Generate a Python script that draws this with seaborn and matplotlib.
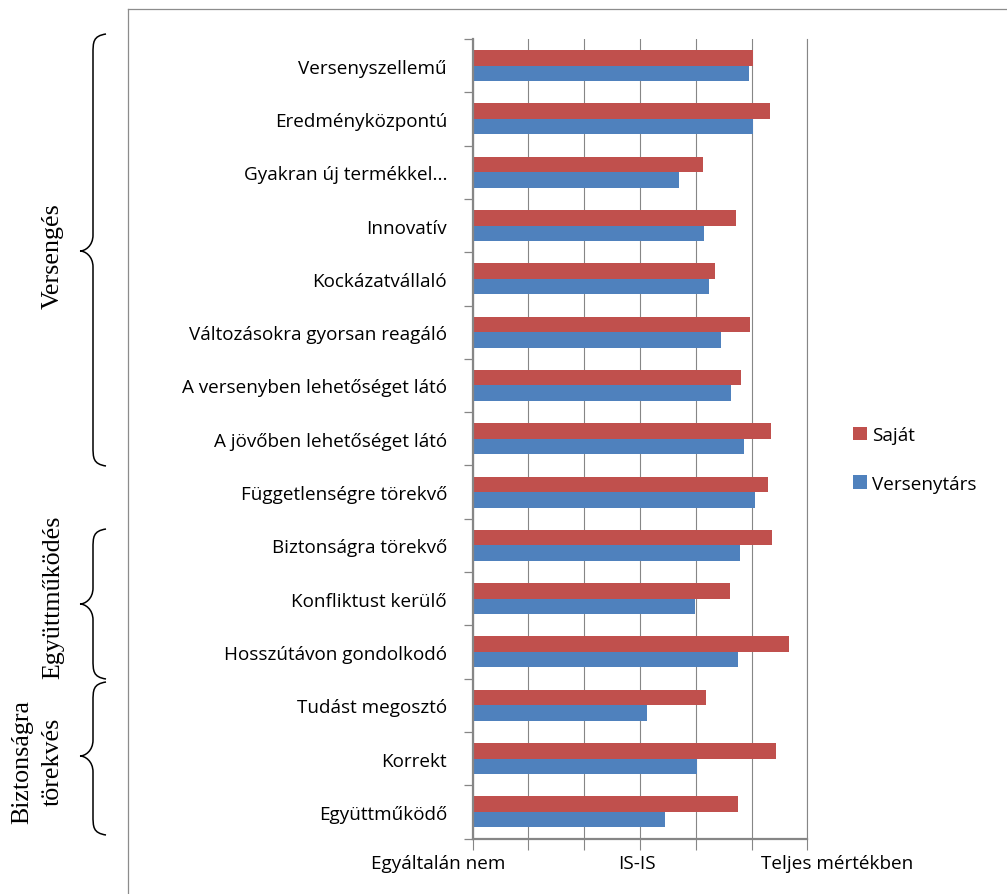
import matplotlib
matplotlib.use('Agg')
import matplotlib.pyplot as plt
import matplotlib.transforms as mtransforms
from matplotlib.lines import Line2D
from matplotlib.path import Path
from matplotlib.patches import PathPatch
import seaborn as sns
import pandas as pd
import numpy as np

# ---------------- data ----------------
categories = [
    'Versenyszellemű',
    'Eredményközpontú',
    'Gyakran új termékkel...',
    'Innovatív',
    'Kockázatvállaló',
    'Változásokra gyorsan reagáló',
    'A versenyben lehetőséget látó',
    'A jövőben lehetőséget látó',
    'Függetlenségre törekvő',
    'Biztonságra törekvő',
    'Konfliktust kerülő',
    'Hosszútávon gondolkodó',
    'Tudást megosztó',
    'Korrekt',
    'Együttműködő',
]
sajat = [6.02, 6.34, 5.13, 5.72, 5.34, 5.97, 5.81, 6.35, 6.30, 6.37, 5.61, 6.67, 5.18, 6.44, 5.76]
versenytars = [5.95, 6.02, 4.70, 5.15, 5.24, 5.45, 5.63, 5.87, 6.06, 5.80, 4.99, 5.76, 4.13, 5.02, 4.45]
series_names = ['Saját', 'Versenytárs']
series_colors = ['#C0504D', '#4F81BD']
x_tick_values = [1, 2, 3, 4, 5, 6, 7]
x_tick_labels = ['Egyáltalán nem', '', '', 'IS-IS', '', '', 'Teljes mértékben']
group_labels = ['Versengés', 'Együttműködés', 'Biztonságra', 'törekvés']

df = pd.DataFrame({
    'Tulajdonság': categories * 2,
    'Sorozat': [series_names[0]] * len(categories) + [series_names[1]] * len(categories),
    'Érték': sajat + versenytars,
})

# ---------------- figure ----------------
W, H = 1007, 895
fig = plt.figure(figsize=(W / 100, H / 100), dpi=100)
plt.rcParams['font.family'] = ['Open Sans', 'DejaVu Sans']

def fx(px):
    return px / W

def fy(py):
    return 1 - py / H

FS = 13.6
ax_left, ax_right, ax_top, ax_bottom = 472.7, 807.3, 40, 839.5
ax = fig.add_axes([fx(ax_left), fy(ax_bottom), fx(ax_right - ax_left), (ax_bottom - ax_top) / H])

sns.barplot(data=df, y='Tulajdonság', x='Érték', hue='Sorozat', hue_order=series_names,
            palette=series_colors, orient='h', width=0.58, dodge=True, errorbar=None,
            saturation=1, linewidth=0, ax=ax)

ax.set_xlim(1, 7)
ax.set_ylim(len(categories) - 0.5, -0.5)
ax.set_xlabel('')
ax.set_ylabel('')

grid_c = '#868686'
ax.set_axisbelow(True)
ax.set_xticks(x_tick_values)
ax.set_xticklabels(x_tick_labels, fontsize=FS, color='black')
ax.xaxis.grid(True, color=grid_c, linewidth=0.8)
ax.yaxis.grid(False)
ax.tick_params(axis='x', which='major', length=8, width=0.8, color=grid_c, pad=3.0, direction='out')

ax.set_yticks(range(len(categories)))
ax.set_yticklabels(categories, fontsize=FS, color='black')
ax.tick_params(axis='y', which='major', length=0, pad=18.5)
ax.set_yticks(np.arange(-0.5, len(categories), 1.0), minor=True)
ax.tick_params(axis='y', which='minor', length=6.5, width=0.9, color=grid_c, direction='out')

for side in ['left', 'bottom']:
    ax.spines[side].set_color(grid_c)
    ax.spines[side].set_linewidth(1.6)
ax.spines['top'].set_visible(False)
ax.spines['right'].set_color(grid_c)
ax.spines['right'].set_linewidth(0.8)

# shift x tick labels like the original
offsets_px = [-34.3, 0, 0, -3, 0, 0, 30]
for lab, dx in zip(ax.get_xticklabels(), offsets_px):
    lab.set_transform(lab.get_transform() + mtransforms.ScaledTranslation(dx / 100, 0, fig.dpi_scale_trans))

# legend
handles, labels = ax.get_legend_handles_labels()
ax.legend(handles, labels, loc='upper left', bbox_to_anchor=(fx(853), fy(427)),
          bbox_transform=fig.transFigure, frameon=False, fontsize=FS,
          handlelength=0.72, handleheight=0.72, handletextpad=0.3,
          labelspacing=1.62, borderpad=0, borderaxespad=0)

# outer frame of the chart area
frame_c = '#8c8c8c'
fig.add_artist(Line2D([fx(128), fx(128)], [0, fy(10)], color=frame_c, lw=0.9, transform=fig.transFigure))
fig.add_artist(Line2D([fx(128), 1], [fy(10), fy(10)], color=frame_c, lw=0.9, transform=fig.transFigure))

# braces
def brace(y_top, y_mid, y_bot, x_end=106, x_vert=93, x_tip=80, r=20, rt=16):
    pts = [
        (x_end, y_top),
        (x_vert, y_top + 2), (x_vert, y_top + 8), (x_vert, y_top + r),
        (x_vert, y_mid - rt),
        (x_vert, y_mid - 5), (x_tip + 5, y_mid), (x_tip, y_mid),
        (x_tip + 5, y_mid), (x_vert, y_mid + 5), (x_vert, y_mid + rt),
        (x_vert, y_bot - r),
        (x_vert, y_bot - 8), (x_vert, y_bot - 2), (x_end, y_bot),
    ]
    codes = [Path.MOVETO,
             Path.CURVE4, Path.CURVE4, Path.CURVE4,
             Path.LINETO,
             Path.CURVE4, Path.CURVE4, Path.CURVE4,
             Path.CURVE4, Path.CURVE4, Path.CURVE4,
             Path.LINETO,
             Path.CURVE4, Path.CURVE4, Path.CURVE4]
    p = Path([(fx(x), fy(y)) for x, y in pts], codes)
    fig.add_artist(PathPatch(p, fill=False, lw=1.1, color='black', transform=fig.transFigure))

brace(35, 252, 467)
brace(530, 605, 680)
brace(683, 757, 836)

serif = ['Liberation Serif', 'DejaVu Serif']
fig.text(fx(53), fy(256), group_labels[0], rotation=90, ha='center', va='center', fontsize=18.7, family=serif)
fig.text(fx(53), fy(597), group_labels[1], rotation=90, ha='center', va='center', fontsize=18.7, family=serif)
fig.text(fx(22), fy(762), group_labels[2], rotation=90, ha='center', va='center', fontsize=18.7, family=serif)
fig.text(fx(53), fy(762), group_labels[3], rotation=90, ha='center', va='center', fontsize=18.7, family=serif)

fig.savefig('out.png', dpi=100)
